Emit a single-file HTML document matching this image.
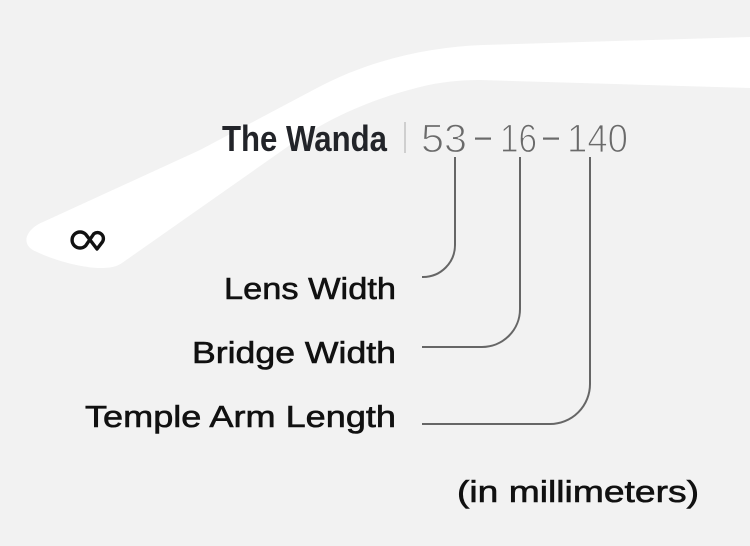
<!DOCTYPE html>
<html>
<head>
<meta charset="utf-8">
<style>
  html, body { margin: 0; padding: 0; background: #f2f2f2; }
  body { width: 750px; height: 546px; overflow: hidden; }
  svg { display: block; }
</style>
</head>
<body>
<svg width="750" height="546" viewBox="0 0 750 546" xmlns="http://www.w3.org/2000/svg">
  <rect x="0" y="0" width="750" height="546" fill="#f2f2f2"/>

  <!-- temple arm -->
  <path d="M750,37 L483,45 C425,47 365,62 317,88 L200,150 L43,222 C26,229 19,245 37,252 C58,262 85,268 100,268 C110,268 116,267 122,263 L290,145 C320,124 360,102 420,87 C440,82 460,80 480,80 L750,88 Z" fill="#ffffff"/>

  <!-- logo -->
  <path d="M97,249 L85.7,234.3 A8 8 0 1 0 85.7,245.7 L93.8,233.8 A6 6 0 0 1 102.2,242.2 Z" fill="none" stroke="#111" stroke-width="3.4" stroke-linejoin="round"/>

  <!-- title -->
  <text x="222" y="151" font-family="Liberation Sans, Arial, sans-serif" font-weight="bold" font-size="36" fill="#222429" textLength="165" lengthAdjust="spacingAndGlyphs">The Wanda</text>
  <line x1="405" y1="122" x2="405" y2="153" stroke="#c6c6c6" stroke-width="1.6"/>

  <!-- numbers -->
  <g font-family="Liberation Sans, Arial, sans-serif" font-size="40" fill="#6a6a6a" stroke="#f2f2f2" stroke-width="1.2">
    <text x="421" y="152" textLength="46" lengthAdjust="spacingAndGlyphs">53</text>
    <text x="500" y="152" textLength="37" lengthAdjust="spacingAndGlyphs">16</text>
    <text x="567" y="152" textLength="61" lengthAdjust="spacingAndGlyphs">140</text>
  </g>
  <rect x="475" y="137.5" width="16" height="2.2" fill="#6a6a6a"/>
  <rect x="543" y="137.5" width="16" height="2.2" fill="#6a6a6a"/>

  <!-- connectors -->
  <g fill="none" stroke="#666" stroke-width="2">
    <path d="M455,157 V245 A32 32 0 0 1 423,277 H422"/>
    <path d="M520,157 V309 A38 38 0 0 1 482,347 H422"/>
    <path d="M590,157 V384 A40 40 0 0 1 550,424 H422"/>
  </g>

  <!-- labels -->
  <g font-family="Liberation Sans, Arial, sans-serif" font-size="31" fill="#111" stroke="#111" stroke-width="0.6">
    <text x="396" y="299" text-anchor="end" textLength="172" lengthAdjust="spacingAndGlyphs">Lens Width</text>
    <text x="396" y="363" text-anchor="end" textLength="204" lengthAdjust="spacingAndGlyphs">Bridge Width</text>
    <text x="396" y="427" text-anchor="end" textLength="311" lengthAdjust="spacingAndGlyphs">Temple Arm Length</text>
    <text x="457" y="502" textLength="242" lengthAdjust="spacingAndGlyphs">(in millimeters)</text>
  </g>
</svg>
</body>
</html>
